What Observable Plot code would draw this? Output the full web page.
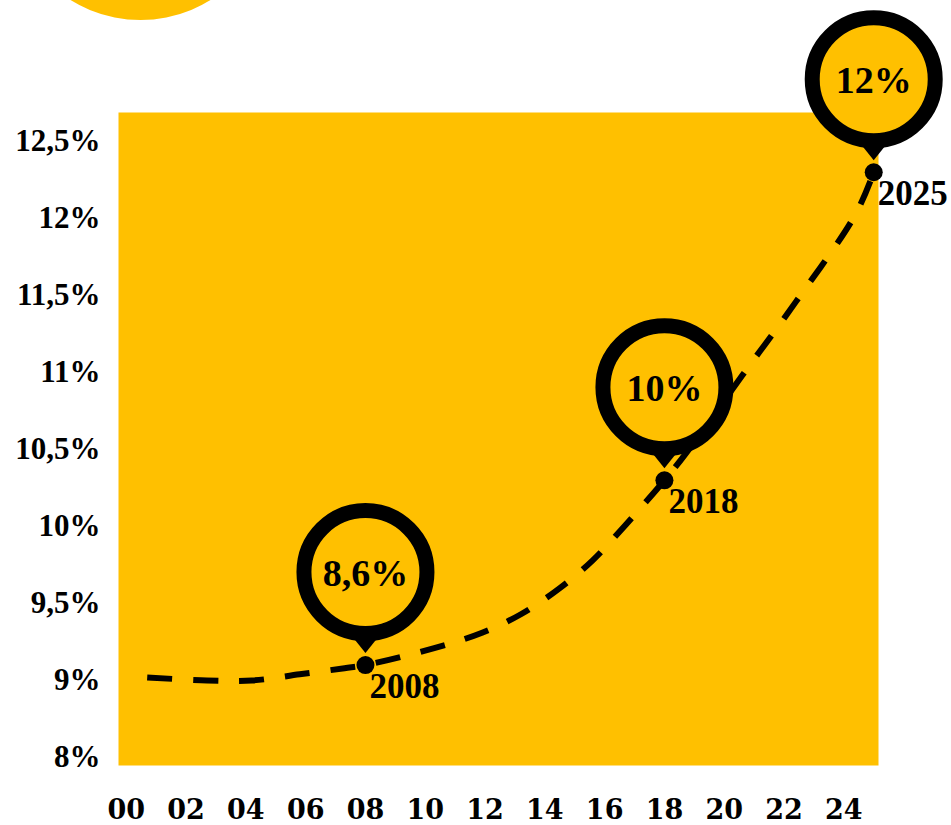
<!DOCTYPE html>
<html>
<head>
<meta charset="utf-8">
<script src="https://cdn.jsdelivr.net/npm/d3@7"></script>
<script src="https://cdn.jsdelivr.net/npm/@observablehq/plot@0.6"></script>
<style>
  html, body { margin: 0; padding: 0; background: #fff; overflow: hidden; }
  #wrap { position: relative; width: 951px; height: 825px; }
  #decor { position: absolute; left: 7.5px; top: -245px; width: 265px; height: 265px; border-radius: 50%; background: #FFC000; }
  #wrap svg { background: transparent; overflow: visible; }
</style>
</head>
<body>
<div id="wrap"><div id="decor"></div></div>
<script>
// Dashed trend curve (year, percent)
const curveYears  = [2000.7, 2002.7, 2004.2, 2005.8, 2007.3, 2008, 2010.3, 2011.9, 2013.2, 2014.5, 2015.6, 2016.7, 2018, 2018.7, 2020.6, 2022.4, 2024.4, 2025];
const curveValues = [9.02, 9.0, 9.0, 9.04, 9.08, 9.10, 9.21, 9.31, 9.43, 9.60, 9.78, 10.01, 10.30, 10.47, 10.98, 11.46, 12.03, 12.30];

// Highlighted points with pin labels
const pinYears  = [2008, 2018, 2025];
const pinValues = [9.10, 10.30, 12.30];
const pinLabels = ["8,6%", "10%", "12%"];
const yearLabels = ["2008", "2018", "2025"];

// Axis ticks
const xTickValues = [2000, 2002, 2004, 2006, 2008, 2010, 2012, 2014, 2016, 2018, 2020, 2022, 2024];
const xTickLabels = ["00", "02", "04", "06", "08", "10", "12", "14", "16", "18", "20", "22", "24"];
const yTickValues = [8.5, 9, 9.5, 10, 10.5, 11, 11.5, 12, 12.5];
const yTickLabels = ["8%", "9%", "9,5%", "10%", "10,5%", "11%", "11,5%", "12%", "12,5%"];

const curve = curveYears.map((y, i) => ({year: y, value: curveValues[i]}));
const pins = pinYears.map((y, i) => ({year: y, value: pinValues[i], label: pinLabels[i], yearLabel: yearLabels[i]}));
const xFmt = new Map(xTickValues.map((v, i) => [v, xTickLabels[i]]));
const yFmt = new Map(yTickValues.map((v, i) => [v, yTickLabels[i]]));

const YELLOW = "#FFC000";
const serif = "'Liberation Serif', serif";

const pinTip = {
  draw(ctx) {
    ctx.moveTo(0, -12);
    ctx.lineTo(24, -42);
    ctx.lineTo(-24, -42);
    ctx.closePath();
  }
};

const chart = Plot.plot({
  width: 951,
  height: 825,
  marginLeft: 118,
  marginRight: 73,
  marginTop: 112,
  marginBottom: 60,
  style: {background: "transparent", overflow: "visible"},
  x: {domain: [1999.74, 2025.16]},
  y: {domain: [8.448, 12.688]},
  marks: [
    Plot.frame({fill: YELLOW, stroke: null}),
    Plot.axisX({
      ticks: xTickValues, tickFormat: d => xFmt.get(d), tickSize: 0, tickPadding: 34,
      fontSize: 27, fontFamily: "'DejaVu Serif', serif", fontWeight: "bold", fill: "#000", label: null
    }),
    Plot.axisY({
      ticks: yTickValues, tickFormat: d => yFmt.get(d), tickSize: 0, tickPadding: 18,
      fontSize: 31, fontFamily: serif, fontWeight: "bold", fill: "#000", label: null
    }),
    Plot.line(curve, {
      x: "year", y: "value", curve: "catmull-rom",
      stroke: "#000", strokeWidth: 6, strokeDasharray: "25,21", strokeLinecap: "butt"
    }),
    Plot.dot(pins, {x: "year", y: "value", r: 9, fill: "#000"}),
    Plot.dot(pins, {x: "year", y: "value", symbol: pinTip, r: 10, fill: "#000", stroke: null}),
    Plot.dot(pins, {x: "year", y: "value", r: 61.5, dy: -93, fill: YELLOW, stroke: "#000", strokeWidth: 15}),
    Plot.text(pins, {
      x: "year", y: "value", text: "label", dy: -91,
      fontSize: 38, fontFamily: serif, fontWeight: "bold", fill: "#000", textAnchor: "middle", lineAnchor: "middle"
    }),
    Plot.text(pins, {
      x: "year", y: "value", text: "yearLabel", dx: 4, dy: 22,
      fontSize: 35, fontFamily: serif, fontWeight: "bold", fill: "#000", textAnchor: "start", lineAnchor: "middle"
    })
  ]
});

document.getElementById("wrap").appendChild(chart);
</script>
</body>
</html>
